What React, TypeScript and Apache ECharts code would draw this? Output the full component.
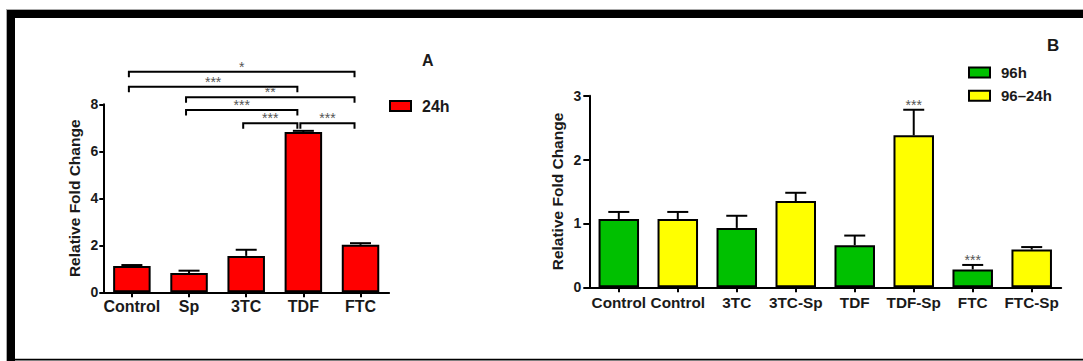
import React, { useEffect, useRef } from "react";
import * as echarts from "echarts";

// ---- Panel A data ----
const catsA = ["Control", "Sp", "3TC", "TDF", "FTC"];
const meanA = [1.12, 0.82, 1.55, 6.82, 2.02];
const errTopA = [1.16, 0.92, 1.81, 6.87, 2.09];
// brackets: [fromIndex, toIndex, level (y units), label]
const bracketsA: [number, number, number, string][] = [
  [0, 4, 9.38, "*"],
  [0, 3, 8.75, "***"],
  [1, 4, 8.3, "**"],
  [1, 3, 7.76, "***"],
  [2, 3, 7.19, "***"],
  [3, 4, 7.19, "***"],
];

// ---- Panel B data ----
const catsB = ["Control", "Control", "3TC", "3TC-Sp", "TDF", "TDF-Sp", "FTC", "FTC-Sp"];
const meanB = [1.07, 1.07, 0.93, 1.35, 0.66, 2.38, 0.28, 0.59];
const errTopB = [1.18, 1.18, 1.12, 1.48, 0.81, 2.78, 0.35, 0.63];
const groupB = ["96h", "96–24h", "96h", "96–24h", "96h", "96–24h", "96h", "96–24h"];
const starsB = ["", "", "", "", "", "***", "***", ""];

const FONT = "'Liberation Sans', Arial, Helvetica, sans-serif";
const TXT = "#1a1a1a";

function errRender(tops: number[], stars: string[] | null) {
  return (params: any, api: any) => {
    const x = api.value(0);
    const v = api.value(1);
    const t = tops[params.dataIndex];
    const p0 = api.coord([x, v]);
    const p1 = api.coord([x, t]);
    const cw = 21;
    const children: any[] = [
      { type: "line", shape: { x1: p0[0], y1: p0[1], x2: p1[0], y2: p1[1] }, style: { stroke: "#000", lineWidth: 2 } },
      { type: "line", shape: { x1: p1[0] - cw / 2, y1: p1[1], x2: p1[0] + cw / 2, y2: p1[1] }, style: { stroke: "#000", lineWidth: 2 } },
    ];
    if (stars && stars[params.dataIndex]) {
      children.push({
        type: "text",
        style: {
          text: stars[params.dataIndex],
          x: p1[0],
          y: p1[1] - 5,
          align: "center",
          verticalAlign: "middle",
          fill: "#555",
          font: `14px ${FONT}`,
        },
      });
    }
    return { type: "group", children };
  };
}

function axisCommon() {
  return {
    axisLine: { show: true, lineStyle: { color: "#000", width: 2 } },
    splitLine: { show: false },
  };
}

export default function App() {
  const ref = useRef<HTMLDivElement>(null);
  useEffect(() => {
    if (!ref.current) return;
    const chart = echarts.init(ref.current, null, { renderer: "svg" });
    const option: any = {
      animation: false,
      backgroundColor: "#fff",
      textStyle: { fontFamily: FONT },
      title: [
        { text: "A", left: 422, top: 52.5, padding: 0, textStyle: { fontSize: 16, fontWeight: "bold", color: TXT, fontFamily: FONT } },
        { text: "B", left: 1047, top: 37, padding: 0, textStyle: { fontSize: 17, fontWeight: "bold", color: TXT, fontFamily: FONT } },
      ],
      legend: [
        {
          data: ["24h"],
          left: 389,
          top: 98,
          padding: 0,
          icon: "rect",
          itemWidth: 21,
          itemHeight: 10,
          itemStyle: { borderColor: "#000", borderWidth: 2 },
          textStyle: { fontSize: 16, fontWeight: "bold", color: TXT, fontFamily: FONT, padding: [0, 0, 0, 6], lineHeight: 16 },
        },
        {
          data: ["96h", "96–24h"],
          orient: "vertical",
          left: 968,
          top: 64.5,
          padding: 0,
          itemGap: 7.3,
          icon: "rect",
          itemWidth: 21,
          itemHeight: 10,
          itemStyle: { borderColor: "#000", borderWidth: 2 },
          textStyle: { fontSize: 15, fontWeight: "bold", color: TXT, fontFamily: FONT, padding: [0, 0, 0, 6], lineHeight: 16 },
        },
      ],
      grid: [
        { left: 103.3, top: 104.3, width: 285.8, height: 188 },
        { left: 589.3, top: 95.7, width: 471.9, height: 191.6 },
      ],
      xAxis: [
        {
          type: "category",
          gridIndex: 0,
          data: catsA,
          ...axisCommon(),
          axisTick: { show: true, alignWithLabel: true, length: 5, lineStyle: { color: "#000", width: 2 } },
          axisLabel: { color: TXT, fontSize: 16, fontWeight: "bold", fontFamily: FONT, margin: 6, interval: 0 },
        },
        {
          type: "category",
          gridIndex: 1,
          data: catsB,
          ...axisCommon(),
          axisTick: { show: true, alignWithLabel: true, length: 5, lineStyle: { color: "#000", width: 2 } },
          axisLabel: { color: TXT, fontSize: 15.3, fontWeight: "bold", fontFamily: FONT, margin: 8, interval: 0 },
        },
      ],
      yAxis: [
        {
          type: "value",
          gridIndex: 0,
          min: 0,
          max: 8,
          interval: 2,
          ...axisCommon(),
          axisTick: { show: true, length: 4, lineStyle: { color: "#000", width: 2 } },
          axisLabel: { color: TXT, fontSize: 14, fontWeight: "bold", fontFamily: FONT, margin: 5 },
          name: "Relative Fold Change",
          nameLocation: "middle",
          nameGap: 21,
          nameTextStyle: { fontSize: 15.5, fontWeight: "bold", color: TXT, fontFamily: FONT },
        },
        {
          type: "value",
          gridIndex: 1,
          min: 0,
          max: 3,
          interval: 1,
          ...axisCommon(),
          axisTick: { show: true, length: 6, lineStyle: { color: "#000", width: 2 } },
          axisLabel: { color: TXT, fontSize: 14, fontWeight: "bold", fontFamily: FONT, margin: 8 },
          name: "Relative Fold Change",
          nameLocation: "middle",
          nameGap: 23.5,
          nameTextStyle: { fontSize: 15.5, fontWeight: "bold", color: TXT, fontFamily: FONT },
        },
      ],
      series: [
        {
          name: "24h",
          type: "bar",
          xAxisIndex: 0,
          yAxisIndex: 0,
          data: meanA,
          barWidth: 37.5,
          itemStyle: { color: "#ff0000", borderColor: "#000", borderWidth: 2 },
        },
        {
          type: "custom",
          xAxisIndex: 0,
          yAxisIndex: 0,
          z: 5,
          data: meanA.map((v, i) => [i, v]),
          renderItem: errRender(errTopA, null),
        },
        {
          type: "custom",
          xAxisIndex: 0,
          yAxisIndex: 0,
          z: 5,
          clip: false,
          data: bracketsA.map((b) => [b[0], b[1], b[2]]),
          renderItem: (params: any, api: any) => {
            const b = bracketsA[params.dataIndex];
            const pl = api.coord([b[0], b[2]]);
            const pr = api.coord([b[1], b[2]]);
            const xl = pl[0] - 3;
            const xr = pr[0] - 6;
            const y = pl[1];
            return {
              type: "group",
              children: [
                {
                  type: "polyline",
                  shape: { points: [[xl, y + 5.5], [xl, y], [xr, y], [xr, y + 5.5]] },
                  style: { stroke: "#000", lineWidth: 2, fill: "none" },
                },
                {
                  type: "text",
                  style: {
                    text: b[3],
                    x: (xl + xr) / 2,
                    y: y - 5,
                    align: "center",
                    verticalAlign: "middle",
                    fill: "#555",
                    font: `14px ${FONT}`,
                  },
                },
              ],
            };
          },
        },
        {
          name: "96h",
          type: "bar",
          xAxisIndex: 1,
          yAxisIndex: 1,
          barGap: "-100%",
          barWidth: 40.5,
          data: meanB.map((v, i) => (groupB[i] === "96h" ? v : "-")),
          itemStyle: { color: "#00c000", borderColor: "#000", borderWidth: 2 },
        },
        {
          name: "96–24h",
          type: "bar",
          xAxisIndex: 1,
          yAxisIndex: 1,
          barGap: "-100%",
          barWidth: 40.5,
          data: meanB.map((v, i) => (groupB[i] === "96–24h" ? v : "-")),
          itemStyle: { color: "#ffff00", borderColor: "#000", borderWidth: 2 },
        },
        {
          type: "custom",
          xAxisIndex: 1,
          yAxisIndex: 1,
          z: 5,
          clip: false,
          data: meanB.map((v, i) => [i, v]),
          renderItem: errRender(errTopB, starsB),
        },
      ],
      graphic: [
        { type: "rect", shape: { x: 6, y: 9, width: 1077, height: 1 }, style: { fill: "#aaa" } },
        { type: "rect", shape: { x: 6, y: 9, width: 1, height: 352 }, style: { fill: "#aaa" } },
        { type: "rect", shape: { x: 7, y: 10, width: 1076, height: 8 }, style: { fill: "#000" } },
        { type: "rect", shape: { x: 7, y: 10, width: 8, height: 351 }, style: { fill: "#000" } },
        { type: "rect", shape: { x: 7, y: 358.8, width: 1076, height: 1.6 }, style: { fill: "#000" } },
      ],
    };
    chart.setOption(option);
    return () => chart.dispose();
  }, []);
  return (
    <div
      ref={ref}
      style={{ position: "fixed", left: 0, top: 0, width: 1083, height: 361, background: "#fff" }}
    />
  );
}
